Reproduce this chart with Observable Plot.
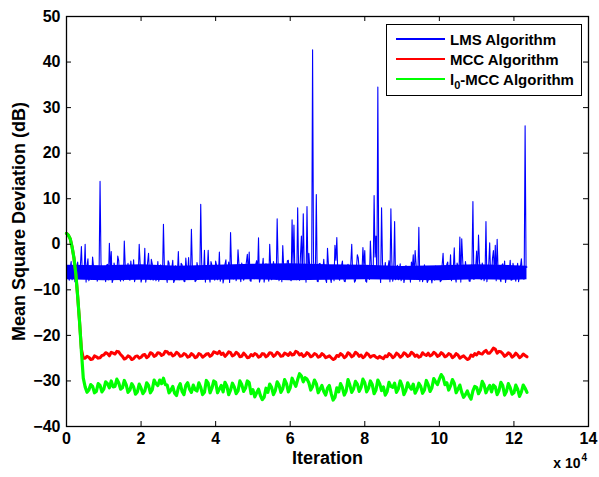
<!DOCTYPE html>
<html><head><meta charset="utf-8">
<script src="https://cdn.jsdelivr.net/npm/d3@7"></script>
<script src="https://cdn.jsdelivr.net/npm/@observablehq/plot@0.6"></script>
<style>
body{margin:0;background:#fff;}
#wrap{position:relative;width:599px;height:477px;font-family:"Liberation Sans",Arial,Helvetica,sans-serif;}
#legend{position:absolute;left:386px;top:24px;width:196px;height:72px;border:1.5px solid #000;background:#fff;box-sizing:border-box;}
.row{position:absolute;left:0;height:20px;display:flex;align-items:center;font-weight:bold;font-size:15px;color:#000;white-space:nowrap;}
.row .l{display:inline-block;width:49px;height:2px;margin-left:9px;margin-right:5px;}
.row sub{font-size:11px;vertical-align:-4px;line-height:0;}
</style></head>
<body>
<div id="wrap"></div>
<script>
// LMS MSD (dB), one value every 500 iterations starting at 0
const lmsMSD = [
-4.5,-7.2,-5.1,-7.8,-4.6,-6.9,-3.9,-7.5,-0.5,-7.0,0.0,-4.8,-8.0,-5.3,-2.8,-7.6,-4.9,-6.8,13.8,-7.4,
-5.0,-8.2,-4.4,0.2,-1.6,-7.7,-5.2,-6.6,-3.6,-8.1,-5.5,0.7,-7.0,-4.2,-7.9,-5.8,-3.4,-7.3,-4.7,0.0,
-8.3,-5.4,-0.9,-6.9,-2.0,-7.8,-4.3,-6.4,-8.0,-3.8,-6.1,-7.5,4.4,-5.6,-8.4,-4.1,-6.7,-3.5,-7.9,-5.0,
-1.6,-7.3,-4.5,-8.1,-3.0,-6.2,-7.7,3.3,-5.3,-8.2,-4.0,-6.8,8.8,-7.6,-1.3,-5.9,-1.3,-8.3,-4.6,-6.5,
-3.7,-7.8,-1.7,-6.0,-8.5,-4.4,-7.1,-3.9,2.6,-7.4,-5.2,-8.0,-1.2,-6.6,-4.1,-7.9,-5.5,-2.2,-1.7,-8.1,
-4.8,-6.9,-3.6,1.4,-7.5,-5.1,-8.3,-4.3,-6.7,0.0,-7.8,-3.8,-6.2,5.6,-8.0,-4.9,-0.3,-7.2,-5.7,-3.5,
-7.6,5.4,4.2,-6.3,8.0,-7.9,1.8,6.7,-5.8,8.3,-2.0,-7.3,42.7,-6.0,10.9,-8.2,-4.2,-6.8,-3.3,-7.7,
-0.9,-5.4,-8.4,-4.6,-0.2,1.5,-7.0,-5.0,-3.7,-8.1,-6.1,-4.4,-7.5,0.0,-6.4,-8.0,-2.3,-5.7,-7.2,-0.7,
-1.4,-8.3,-4.9,0.7,-6.6,10.7,1.8,34.5,-5.2,8.0,-7.4,-4.0,-6.9,-3.6,7.8,-8.1,5.0,-5.5,-7.8,-4.3,
-6.5,-8.4,-4.7,-7.1,-5.8,-3.9,-2.3,-1.4,-7.6,3.7,-5.3,-8.2,-4.5,-6.9,-7.9,-5.0,-8.5,-6.3,-4.8,-7.4,
-5.6,-8.0,-2.0,-6.7,-4.4,-7.7,-2.3,-6.0,-0.8,-8.3,-4.9,1.6,1.2,-7.2,-3.8,-6.4,-8.1,-4.6,9.4,-7.5,
-1.5,2.0,-6.8,-4.1,-8.0,5.0,-5.9,0.3,-7.3,-1.4,-0.2,1.1,-6.5,-8.2,-4.3,-3.7,-7.0,-5.2,-3.5,-7.8,
-5.5,-8.1,-4.2,-6.8,-3.2,-7.6,26.0,-5.0
];
// LMS MSD (dB) in between, at 250 + every 500 iterations
const lmsMSDMid = [
-6.1,-7.9,-3.8,-6.4,-8.2,-5.0,-7.3,-4.4,-6.8,-5.6,-8.3,-3.2,-6.9,-7.7,-4.9,-6.0,-8.1,-5.4,-3.9,-7.1,
-6.3,-4.6,-7.8,-5.5,-8.4,-4.1,-6.7,-2.6,-7.4,-5.1,-8.0,-4.8,-6.2,-7.6,-3.7,-6.9,-8.2,-5.3,-7.0,-4.3,
-7.5,-5.9,-8.3,-4.0,-6.6,-3.3,-7.9,-5.7,-6.4,-8.1,-4.5,-7.2,-5.0,-6.8,-3.6,-7.7,-5.2,-8.4,-4.7,-6.3,
-7.8,-4.2,-6.0,-8.2,-5.6,-2.9,-7.1,-4.9,-6.7,-8.0,-5.3,-7.4,-4.0,-6.5,-8.3,-5.8,-7.0,-3.8,-6.1,-7.9,
-4.6,-6.8,-8.1,-5.2,-7.3,-3.4,-6.4,-8.4,-4.8,-7.6,-5.5,-6.9,-4.3,-8.2,-5.9,-7.2,-3.9,-6.6,-8.0,-5.1,
-7.4,-4.4,-6.2,-8.3,-5.7,-3.1,-7.0,-6.0,-8.1,-4.7,-6.8,-5.3,-7.7,-4.1,-6.3,-8.2,-5.0,-7.5,-3.6,-6.9,
-8.0,-4.9,-6.4,-7.8,-5.4,-2.5,-7.2,-4.6,-8.3,-6.1,-5.2,-7.6,-3.8,-6.7,-8.1,-4.3,-7.0,-5.8,-6.5,-8.4,
-4.5,-7.3,-5.6,-8.0,-3.5,-6.2,-7.9,-4.8,-6.9,-8.2,-5.1,-7.4,-4.2,-6.6,-8.3,-5.5,-3.0,-7.1,-6.0,-4.7,
-8.1,-5.3,-7.7,-4.4,-6.8,-2.8,-7.5,-5.9,-8.4,-4.0,-6.3,-7.0,-5.0,-8.2,-3.7,-6.5,-7.8,-4.6,-6.1,-8.0,
-5.4,-7.2,-4.9,-6.7,-8.3,-5.2,-7.6,-4.3,-6.4,-8.1,-5.7,-7.3,-6.0,-8.4,-5.5,-7.0,-6.6,-7.9,-5.1,-6.8,
-8.2,-4.5,-6.9,-7.5,-3.9,-6.2,-8.0,-5.3,-7.1,-4.1,-6.6,-8.3,-3.4,-7.4,-5.6,-6.0,-8.1,-4.8,-7.7,-5.0,
-6.5,-3.6,-7.8,-5.4,-6.9,-8.2,-4.4,-7.2,-3.1,-6.3,-8.0,-5.8,-7.5,-4.6,-6.7,-8.4,-5.2,-6.1,-7.9,-4.2,
-7.0,-5.5,-8.2,-4.9,-6.4,-7.6,-5.1
];
const lmsStep = 500;
// Dense core of the LMS noise band (dB), read every 10000 iterations (last at 123500)
const lmsBandIter = [0,10000,20000,30000,40000,50000,60000,70000,80000,90000,100000,110000,120000,123500];
const lmsBandLow  = [-7.8,-8.0,-7.9,-8.0,-7.9,-7.8,-8.0,-7.9,-7.8,-7.9,-8.0,-7.8,-7.9,-7.8];
const lmsBandHigh = [-4.6,-4.7,-4.5,-4.8,-4.6,-4.4,-4.3,-4.5,-4.6,-4.9,-4.7,-4.5,-4.7,-4.8];

// Convergence phase (iterations) shared by MCC and l0-MCC
const transIter = [0,500,1000,1500,2000,2500,3000,3500,4000,4500];
const mccTrans  = [2.4,2.0,1.2,-0.6,-3.0,-6.5,-11.5,-17.0,-23.0,-25.0];
const l0Trans   = [2.4,2.0,1.2,-0.6,-3.0,-6.5,-11.5,-17.0,-23.5,-29.4];

// Steady state, one value every 1000 iterations from 5000, plus values in between (from 5500)
const steadyStart = 5000, steadyStep = 1000;
const mccSteady = [
-25.0,-24.8,-25.2,-24.7,-24.9,-24.3,-24.0,-23.7,-24.1,-23.6,
-24.6,-25.0,-24.7,-25.1,-24.5,-24.8,-24.2,-24.6,-24.0,-24.4,
-23.9,-24.2,-23.6,-23.9,-24.3,-24.0,-24.5,-24.2,-24.6,-24.3,
-24.7,-24.2,-24.5,-24.0,-24.3,-23.8,-23.5,-23.9,-24.2,-23.8,
-24.3,-24.0,-24.6,-24.3,-24.8,-24.5,-24.2,-24.6,-24.1,-24.4,
-23.9,-24.3,-24.0,-24.5,-24.1,-23.8,-24.2,-23.7,-24.0,-24.4,
-24.1,-24.5,-24.2,-24.6,-24.3,-24.7,-24.9,-25.1,-24.6,-24.3,
-24.6,-24.1,-24.4,-24.0,-24.3,-24.6,-24.2,-24.5,-24.8,-24.6,
-25.1,-24.7,-24.3,-24.6,-24.2,-24.5,-24.1,-24.4,-24.0,-24.3,
-24.6,-24.2,-23.9,-24.3,-24.0,-24.4,-24.1,-24.5,-24.2,-24.6,
-24.3,-24.7,-24.9,-25.1,-24.6,-24.3,-24.0,-23.6,-23.9,-23.4,
-23.0,-23.5,-24.0,-24.3,-24.1,-24.5,-24.3,-24.6,-24.4
];
const mccSteadyMid = [
-24.6,-25.3,-24.5,-25.0,-24.4,-23.8,-24.5,-23.9,-23.5,-24.2,
-25.2,-24.5,-25.3,-24.6,-25.0,-24.3,-24.9,-23.8,-24.6,-23.8,
-24.4,-23.5,-24.1,-24.5,-23.7,-24.6,-24.0,-24.8,-24.0,-24.9,
-24.0,-24.8,-24.1,-24.6,-23.6,-24.0,-24.2,-24.6,-23.6,-24.5,
-23.7,-24.7,-23.9,-24.9,-24.2,-24.0,-24.8,-24.0,-24.7,-23.8,
-24.6,-23.7,-24.6,-23.9,-24.4,-24.3,-23.5,-24.3,-24.6,-23.8,
-24.7,-24.0,-24.8,-24.0,-24.9,-24.5,-25.3,-24.4,-24.0,-24.9,
-23.8,-24.7,-23.7,-24.6,-24.9,-23.9,-24.8,-24.4,-25.0,-24.9,
-24.5,-24.0,-24.9,-23.9,-24.8,-23.8,-24.6,-23.7,-24.6,-24.8,
-23.8,-24.4,-24.5,-23.7,-24.6,-23.8,-24.7,-24.0,-24.9,-24.0,
-25.0,-24.5,-25.3,-24.3,-24.0,-23.7,-24.1,-23.3,-23.9,-22.8,
-23.9,-23.6,-24.6,-23.8,-24.8,-23.9,-24.9,-24.1,-24.7
];
const l0Steady = [
-31.3,-32.0,-31.2,-32.3,-31.0,-31.8,-30.6,-30.0,-31.2,-30.4,
-31.5,-30.8,-32.0,-31.3,-32.4,-31.6,-32.2,-31.0,-31.9,-30.6,
-29.8,-29.4,-30.9,-32.0,-32.7,-31.5,-32.3,-31.0,-31.8,-30.9,
-32.2,-31.4,-32.5,-30.5,-31.6,-30.3,-31.8,-32.4,-31.1,-32.0,
-31.3,-32.2,-30.8,-31.6,-30.4,-31.9,-32.6,-33.2,-33.6,-32.5,
-31.4,-32.1,-30.9,-31.7,-30.6,-31.5,-30.3,-29.7,-28.9,-29.3,
-30.4,-31.2,-30.6,-31.8,-32.3,-31.6,-32.8,-33.6,-32.4,-31.5,
-32.2,-30.9,-31.7,-30.7,-31.4,-30.4,-31.6,-30.8,-32.0,-30.6,
-31.3,-32.3,-31.2,-30.5,-31.7,-31.0,-32.1,-31.3,-30.7,-31.9,
-31.2,-32.0,-30.8,-31.5,-30.2,-29.6,-29.2,-30.4,-31.1,-30.5,
-31.8,-32.5,-33.0,-33.3,-32.2,-31.4,-32.0,-30.9,-31.7,-32.4,
-31.3,-32.1,-31.0,-32.3,-31.5,-32.6,-31.8,-32.4,-31.6
];
const l0SteadyMid = [
-32.5,-30.8,-32.6,-30.6,-32.4,-30.2,-31.5,-31.3,-29.6,-31.8,
-29.9,-32.5,-30.6,-32.9,-30.7,-32.8,-30.4,-32.6,-29.8,-31.0,
-30.6,-30.8,-32.6,-31.2,-33.2,-30.6,-33.0,-30.4,-32.5,-31.9,
-30.4,-33.0,-29.9,-32.6,-30.0,-32.6,-31.0,-30.3,-33.0,-30.5,
-32.8,-30.0,-32.3,-30.0,-32.8,-33.5,-31.8,-34.1,-31.6,-30.7,
-33.0,-30.2,-32.5,-29.7,-32.4,-29.4,-31.2,-28.4,-30.2,-29.6,
-32.0,-29.8,-32.6,-31.0,-33.1,-31.0,-34.2,-31.5,-30.6,-33.1,
-29.7,-32.5,-30.1,-32.3,-29.6,-32.4,-30.0,-32.8,-29.8,-32.1,
-33.1,-30.3,-31.4,-32.5,-30.0,-33.0,-30.4,-31.8,-32.7,-30.5,
-32.7,-29.9,-32.3,-29.5,-30.8,-28.6,-30.8,-32.0,-29.7,-32.6,
-30.9,-33.6,-32.2,-34.0,-31.2,-32.8,-30.1,-32.6,-31.0,-30.9,
-33.0,-30.3,-33.1,-30.6,-32.9,-30.9,-33.4,-30.9,-32.5
];

const xTicks = [0,20000,40000,60000,80000,100000,120000,140000];
const yTicks = [-40,-30,-20,-10,0,10,20,30,40,50];
const seriesNames = ["LMS Algorithm","MCC Algorithm","l0-MCC Algorithm"];
const seriesColors = ["#0000ff","#ff0000","#00ff00"];

const byIter = (a,b)=>a.iter-b.iter;
const lmsData = lmsMSD.map((v,i)=>({iter:i*lmsStep, msd:v}))
  .concat(lmsMSDMid.map((v,i)=>({iter:lmsStep/2+i*lmsStep, msd:v}))).sort(byIter);
const lmsBand = lmsBandIter.map((t,i)=>({iter:t, lo:lmsBandLow[i], hi:lmsBandHigh[i]}));
const mkSeries = (trans, steady, mid) =>
  transIter.map((t,i)=>({iter:t, msd:trans[i]}))
  .concat(steady.map((v,i)=>({iter:steadyStart+i*steadyStep, msd:v})))
  .concat(mid.map((v,i)=>({iter:steadyStart+steadyStep/2+i*steadyStep, msd:v})))
  .sort(byIter);
const mccData = mkSeries(mccTrans, mccSteady, mccSteadyMid);
const l0Data = mkSeries(l0Trans, l0Steady, l0SteadyMid);

const xDom=[0,140000], yDom=[-40,50];
const tickLenX = (xDom[1]-xDom[0])*5/522;
const tickLenY = (yDom[1]-yDom[0])*5/410;

const chart = Plot.plot({
  width:599, height:477,
  marginLeft:66, marginRight:11, marginTop:16, marginBottom:51,
  style:{fontFamily:'"Liberation Sans",Arial,Helvetica,sans-serif', color:"#000", background:"#fff"},
  x:{domain:xDom},
  y:{domain:yDom},
  marks:[
    Plot.areaY(lmsBand,{x:"iter",y1:"lo",y2:"hi",fill:seriesColors[0]}),
    Plot.line(lmsData,{x:"iter",y:"msd",stroke:seriesColors[0],strokeWidth:1.1}),
    Plot.line(mccData,{x:"iter",y:"msd",stroke:seriesColors[1],strokeWidth:3}),
    Plot.line(l0Data,{x:"iter",y:"msd",stroke:seriesColors[2],strokeWidth:3.2}),
    Plot.ruleX(xTicks,{x:d=>d,y1:yDom[0],y2:yDom[0]+tickLenY,stroke:"#000"}),
    Plot.ruleX(xTicks,{x:d=>d,y1:yDom[1],y2:yDom[1]-tickLenY,stroke:"#000"}),
    Plot.ruleY(yTicks,{y:d=>d,x1:xDom[0],x2:xDom[0]+tickLenX,stroke:"#000"}),
    Plot.ruleY(yTicks,{y:d=>d,x1:xDom[1],x2:xDom[1]-tickLenX,stroke:"#000"}),
    Plot.frame({stroke:"#000",strokeWidth:1.3}),
    Plot.axisX(xTicks,{anchor:"bottom",tickSize:0,tickPadding:6,tickFormat:d=>d/1e4,fontSize:16,fontWeight:"bold",label:null}),
    Plot.axisY(yTicks,{anchor:"left",tickSize:0,tickPadding:6,fontSize:16,fontWeight:"bold",label:null}),
    Plot.text(["Iteration"],{frameAnchor:"bottom",dy:37,fontSize:18,fontWeight:"bold"}),
    Plot.text(["x 10"],{frameAnchor:"bottom-right",textAnchor:"end",dx:-8,dy:41,fontSize:14,fontWeight:"bold"}),
    Plot.text(["4"],{frameAnchor:"bottom-right",textAnchor:"start",dx:-7,dy:34,fontSize:10,fontWeight:"bold"}),
    Plot.text(["Mean Square Deviation (dB)"],{frameAnchor:"left",textAnchor:"middle",rotate:-90,dx:-47,fontSize:18,fontWeight:"bold"})
  ]
});
const wrap = document.getElementById("wrap");
wrap.appendChild(chart);

const leg = document.createElement("div");
leg.id = "legend";
seriesNames.forEach((name,i)=>{
  const row = document.createElement("div");
  row.className = "row";
  row.style.top = (4 + i*20) + "px";
  const ln = document.createElement("span");
  ln.className = "l"; ln.style.background = seriesColors[i];
  row.appendChild(ln);
  const tx = document.createElement("span");
  if (name.startsWith("l0")) { tx.innerHTML = "l<sub>0</sub>" + name.slice(2); }
  else tx.textContent = name;
  row.appendChild(tx);
  leg.appendChild(row);
});
wrap.appendChild(leg);
</script>
</body></html>
